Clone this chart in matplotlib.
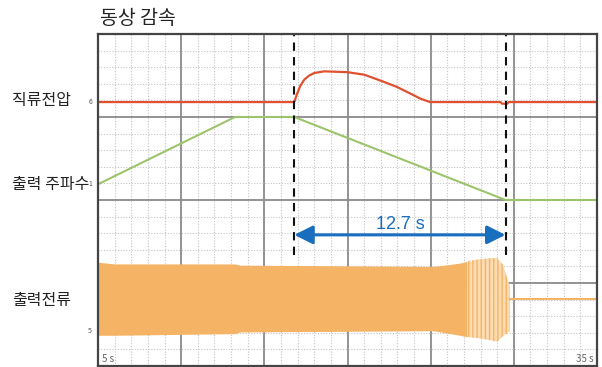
import matplotlib.pyplot as plt
import numpy as np
from matplotlib.ticker import MultipleLocator

plt.rcParams['font.family'] = ['Noto Sans CJK KR', 'DejaVu Sans']
plt.rcParams['hatch.linewidth'] = 1.0

# time base: 5 s/div, screen in divisions (0..4)
t_start, t_stop = 5, 35
t_decel, decel_time = 16.8, 12.7
t_end = t_decel + decel_time

# DC bus voltage (red)
v_t = [5, 16.8, 16.95, 17.15, 17.4, 17.7, 18.0, 18.6, 20.0, 21.0, 22.1, 23.0,
       23.8, 24.4, 24.96, 29.2, 29.3, 29.6, 29.7, 35]
v_y = [3.18, 3.18, 3.27, 3.37, 3.45, 3.50, 3.53, 3.55, 3.54, 3.51, 3.43, 3.36,
       3.28, 3.22, 3.18, 3.18, 3.16, 3.16, 3.18, 3.18]

# output frequency (green)
f_t = [5, 13.24, t_decel, t_end, 35]
f_y = [2.19, 3.0, 3.0, 2.0, 2.0]

# output current envelope (orange)
i_t = [5, 6.0, 13.24, 13.54, 25.14, 25.86, 26.76, 27.2]
i_top = [1.25, 1.23, 1.23, 1.215, 1.20, 1.215, 1.24, 1.26]
i_bot = [0.37, 0.37, 0.39, 0.41, 0.425, 0.40, 0.37, 0.35]
i_tail_t = [27.2, 27.7, 28.6, 29.0, 29.35, 29.77]
i_tail_top = [1.26, 1.28, 1.30, 1.30, 1.22, 0.95]
i_tail_bot = [0.35, 0.34, 0.31, 0.29, 0.36, 0.42]
i_zero = 0.807

fig = plt.figure(figsize=(6.02, 3.67), dpi=100)
ax = fig.add_axes([98 / 602, 1 / 367, 499 / 602, 332 / 367])
ax.set_xlim(t_start, t_stop)
ax.set_ylim(0, 4)

ax.xaxis.set_major_locator(MultipleLocator(5))
ax.xaxis.set_minor_locator(MultipleLocator(1))
ax.yaxis.set_major_locator(MultipleLocator(1))
ax.yaxis.set_minor_locator(MultipleLocator(0.2))
ax.grid(which='minor', color='#c4c4c4', linestyle=(0, (1, 1.5)), linewidth=0.8)
ax.grid(which='major', color='#8a8a8a', linewidth=1.3)
ax.set_axisbelow(True)
ax.tick_params(which='both', length=0, labelbottom=False, labelleft=False)
for sp in ax.spines.values():
    sp.set_color('#444444')
    sp.set_linewidth(1.6)

# current
ax.fill_between(i_t, i_bot, i_top, color='#f5b465', linewidth=0)
ax.fill_between(i_tail_t, i_tail_bot, i_tail_top, facecolor='#fbdcb4',
                edgecolor='#f5b465', hatch='||||', linewidth=0)
ax.plot([i_tail_t[-1], t_stop], [i_zero, i_zero], color='#f5b465', linewidth=1.5)

# frequency and voltage
ax.plot(f_t, f_y, color='#9cc46c', linewidth=1.5)
ax.plot(v_t, v_y, color='#e0512f', linewidth=1.6)

# deceleration markers
for t in (t_decel, t_end):
    ax.plot([t, t], [1.34, 4], color='#111111', linestyle=(0, (4, 3)), linewidth=1.5)
ax.annotate('', xy=(t_decel, 1.58), xytext=(t_end, 1.58),
            arrowprops=dict(arrowstyle='<|-|>', color='#1a6ebe', lw=2.2,
                            mutation_scale=28, shrinkA=0, shrinkB=0))
ax.text((t_decel + t_end) / 2, 1.645, f'{decel_time} s', color='#1a6ebe', fontsize=13,
        family='Liberation Sans', ha='center', va='baseline')

# channel markers and time labels
for y, s in ((3.18, '6'), (2.19, '1'), (0.42, '5')):
    ax.text(-0.012, y, s, transform=ax.get_yaxis_transform(), fontsize=5,
            color='#555555', ha='right', va='center')
ax.text(5.25, 0.03, '5 s', fontsize=7, color='#666666', va='bottom')
ax.text(34.8, 0.03, '35 s', fontsize=7, color='#666666', va='bottom', ha='right')

# channel names
fig.text(12 / 602, 1 - 101 / 367, '직류전압', fontsize=11.5, color='#222222', va='center')
fig.text(12 / 602, 1 - 185 / 367, '출력 주파수', fontsize=11.5, color='#222222', va='center')
fig.text(12 / 602, 1 - 300 / 367, '출력전류', fontsize=11.5, color='#222222', va='center')
fig.text(100 / 602, 1 - 19 / 367, '동상 감속', fontsize=14, color='#222222', va='center')

fig.savefig('out.png', dpi=100)
